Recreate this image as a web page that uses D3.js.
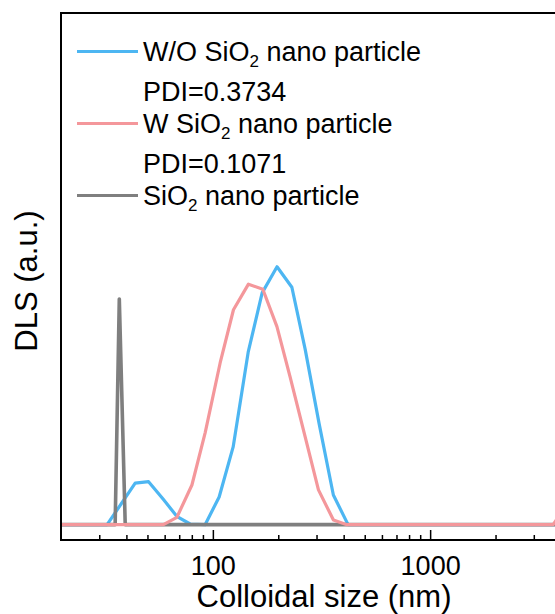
<!DOCTYPE html>
<html>
<head>
<meta charset="utf-8">
<script src="https://cdn.jsdelivr.net/npm/d3@7"></script>
<style>
  body { margin: 0; background: #fff; }
  svg { display: block; font-family: "Liberation Sans", Arial, sans-serif; }
</style>
</head>
<body>
<svg id="chart"></svg>
<script>
const WIDTH = 555;
const HEIGHT = 614;

// size bins (nm) and intensities for each sample
const woSize = [20, 32.6, 43.9, 50.6, 59.0, 68.5, 78.6, 92.1, 106.9, 124, 145.4, 168.6, 197.4, 231, 265.9, 308.5, 358.6, 419, 5000];
const woValue = [0, 0, 8.1, 8.4, 5.0, 1.55, 0.13, 0, 5.4, 15.2, 33.7, 45.3, 50.4, 46.4, 34.3, 19.7, 5.8, 0, 0];

const wSize = [18.2, 59.2, 68.3, 80.1, 92.2, 108, 124.4, 145.8, 169.8, 197.2, 226.7, 265.8, 306.2, 358.8, 414, 3683, 4266];
const wValue = [0, 0, 1.44, 7.75, 18, 31.6, 42.0, 47.0, 46.0, 38.7, 28.9, 17.2, 6.8, 0.9, 0, 0, 4];

const sioSize = [18.2, 35.5, 37.1, 39.5, 5000];
const sioValue = [0, 0, 44.1, 0, 0];

const seriesColors = ['#4db6f2', '#f4979b', '#7f7f7f'];
const legendNames = [
  ['W/O SiO', '2', ' nano particle'],
  ['W SiO', '2', ' nano particle'],
  ['SiO', '2', ' nano particle']
];
const pdiLabels = ['PDI=0.3734', 'PDI=0.1071', null];

const majorTicks = [100, 1000];
const minorTicks = [30, 40, 50, 60, 70, 80, 90, 200, 300, 400, 500, 600, 700, 800, 900, 2000, 3000, 4000];

const margin = {left: 61, top: 13, bottom: 74};

function makeChart(){
    const svg = d3.select('#chart')
        .attr('width', WIDTH)
        .attr('height', HEIGHT);

    const x = d3.scaleLog()
        .domain([20, 5000])
        .range([margin.left, 582]);

    const y = d3.scaleLinear()
        .domain([-3, 100])
        .range([HEIGHT - margin.bottom, margin.top]);

    svg.append('clipPath')
        .attr('id', 'plot-clip')
        .append('rect')
        .attr('x', x.range()[0])
        .attr('y', y.range()[1])
        .attr('width', x.range()[1] - x.range()[0])
        .attr('height', y.range()[0] - y.range()[1]);

    const line = d3.line()
        .x(d => x(d[0]))
        .y(d => y(d[1]));

    const series = [
        {size: woSize, value: woValue, color: seriesColors[0], width: 3.2},
        {size: sioSize, value: sioValue, color: seriesColors[2], width: 3.6},
        {size: wSize, value: wValue, color: seriesColors[1], width: 3.2}
    ];

    svg.append('g')
        .attr('clip-path', 'url(#plot-clip)')
        .selectAll('path')
        .data(series)
        .enter()
        .append('path')
        .attr('d', s => line(s.size.map((v, i) => [v, s.value[i]])))
        .attr('fill', 'none')
        .attr('stroke', s => s.color)
        .attr('stroke-width', s => s.width)
        .attr('stroke-linejoin', 'round');

    // frame
    svg.append('rect')
        .attr('x', x.range()[0])
        .attr('y', y.range()[1])
        .attr('width', x.range()[1] - x.range()[0])
        .attr('height', y.range()[0] - y.range()[1])
        .attr('fill', 'none')
        .attr('stroke', '#000')
        .attr('stroke-width', 2);

    // bottom axis: minor then major ticks, pointing inward
    const bottom = HEIGHT - margin.bottom;
    svg.append('g')
        .attr('transform', `translate(0,${bottom})`)
        .call(d3.axisBottom(x).tickValues(minorTicks).tickSize(-5).tickFormat(''))
        .call(g => g.select('.domain').remove())
        .call(g => g.selectAll('line').attr('stroke-width', 1.5));

    svg.append('g')
        .attr('transform', `translate(0,${bottom})`)
        .call(d3.axisBottom(x).tickValues(majorTicks).tickSize(-10).tickPadding(16).tickFormat(d3.format('d')))
        .call(g => g.select('.domain').remove())
        .call(g => g.selectAll('line').attr('stroke-width', 1.5))
        .call(g => g.selectAll('text')
            .attr('font-size', 27)
            .attr('fill', '#000')
            .style('font-family', '"Liberation Sans", Arial, sans-serif'));

    svg.append('text')
        .attr('x', 324)
        .attr('y', 607)
        .attr('text-anchor', 'middle')
        .attr('font-size', 31)
        .text('Colloidal size (nm)');

    svg.append('text')
        .attr('transform', 'translate(37,281) rotate(-90)')
        .attr('text-anchor', 'middle')
        .attr('font-size', 31)
        .text('DLS (a.u.)');

    // legend
    const legend = svg.append('g').attr('font-size', 27);
    legendNames.forEach((parts, i) => {
        const base = 61 + i * 72;
        legend.append('line')
            .attr('x1', 77).attr('x2', 138)
            .attr('y1', base - 9.5).attr('y2', base - 9.5)
            .attr('stroke', seriesColors[i])
            .attr('stroke-width', 3.2);
        const t = legend.append('text').attr('x', 143).attr('y', base);
        t.append('tspan').text(parts[0]);
        t.append('tspan').attr('font-size', 17).attr('dy', 6).text(parts[1]);
        t.append('tspan').attr('dy', -6).text(parts[2]);
        if (pdiLabels[i]) {
            legend.append('text')
                .attr('x', 143)
                .attr('y', base + 39.5)
                .text(pdiLabels[i]);
        }
    });
}

makeChart();
</script>
</body>
</html>
